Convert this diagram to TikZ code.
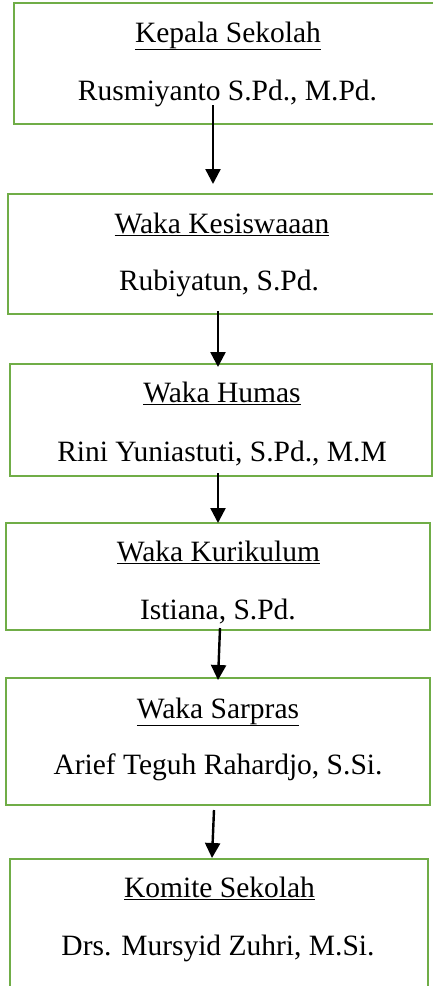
\documentclass[tikz,border=0pt]{standalone}
\usepackage{fontspec}
\setmainfont{Liberation Serif}
\usetikzlibrary{arrows.meta}
\definecolor{boxgreen}{HTML}{70AD47}
\begin{document}
\begin{tikzpicture}[x=1pt,y=-1pt,
  box/.style={draw=boxgreen,line width=2.6pt,anchor=north west,inner sep=0pt,outer sep=0pt},
  txt/.style={anchor=base,inner sep=0pt,font=\fontsize{29.5}{35}\selectfont},
  conn/.style={line width=2.4pt,-{Triangle[width=15pt,length=15pt]}}]
\useasboundingbox (0,0) rectangle (433,986);
% boxes
\node[box,minimum width=440pt,minimum height=121pt] (b1) at (14,3) {};
\node[box,minimum width=440pt,minimum height=120pt] (b2) at (8,194) {};
\node[box,minimum width=422pt,minimum height=112pt] (b3) at (10,364) {};
\node[box,minimum width=424pt,minimum height=107pt] (b4) at (6,523) {};
\node[box,minimum width=424pt,minimum height=127pt] (b5) at (6,678) {};
\node[box,minimum width=418pt,minimum height=140pt] (b6) at (10,859) {};
% texts
\node[txt] (h1) at (228,42) {\underline{Kepala Sekolah}};
\node[txt] (n1) at (227.5,100) {Rusmiyanto S.Pd., M.Pd.};
\node[txt] (h2) at (222,233) {\underline{Waka Kesiswaaan}};
\node[txt] (n2) at (219,290) {Rubiyatun, S.Pd.};
\node[txt] (h3) at (222,402) {\underline{Waka Humas}};
\node[txt] (n3) at (222,461) {Rini Yuniastuti, S.Pd., M.M};
\node[txt] (h4) at (218.5,561) {\underline{Waka Kurikulum}};
\node[txt] (n4) at (218,619) {Istiana, S.Pd.};
\node[txt] (h5) at (218,718) {\underline{Waka Sarpras}};
\node[txt] (n5) at (218,774) {Arief Teguh Rahardjo, S.Si.};
\node[txt] (h6) at (219.5,897) {\underline{Komite Sekolah}};
\node[txt] (n6) at (218,955) {Drs. Mursyid Zuhri, M.Si.};
% connector ends
\coordinate (a1s) at (213,105); \coordinate (a1e) at (213,184);
\coordinate (a2s) at (218,311); \coordinate (a2e) at (218,367);
\coordinate (a3s) at (218,473); \coordinate (a3e) at (218,523);
\coordinate (a4s) at (220,628); \coordinate (a4e) at (218,680);
\coordinate (a5s) at (214,810); \coordinate (a5e) at (212,858);
\draw[conn] (a1s) -- (a1e);
\draw[conn] (a2s) -- (a2e);
\draw[conn] (a3s) -- (a3e);
\draw[conn] (a4s) -- (a4e);
\draw[conn] (a5s) -- (a5e);
\end{tikzpicture}
\end{document}
